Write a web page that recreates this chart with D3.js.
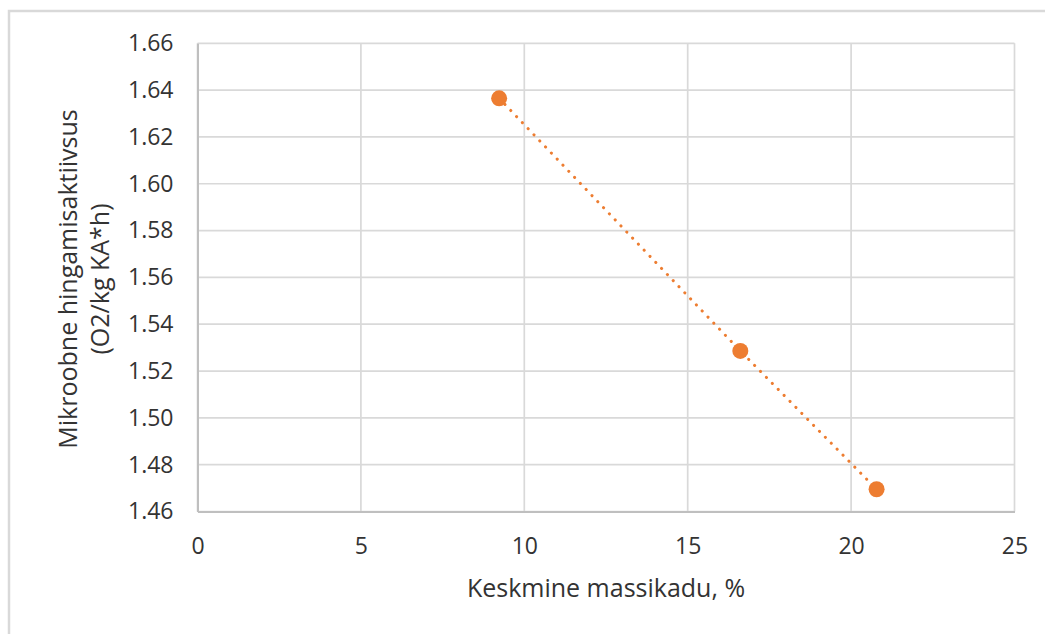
<!DOCTYPE html>
<html>
<head>
<meta charset="utf-8">
<script src="https://cdn.jsdelivr.net/npm/d3@7"></script>
<style>
  html, body { margin: 0; padding: 0; background: #fff; }
  svg { display: block; }
  text { font-family: "Open Sans", "Liberation Sans", sans-serif; fill: #333; }
</style>
</head>
<body>
<svg id="chart" width="1045" height="634"></svg>
<script>
// Average mass loss (%) vs. microbial respiration activity
const massLoss = [9.23, 16.61, 20.78];
const respiration = [1.6365, 1.5286, 1.4695];
const xTicks = [0, 5, 10, 15, 20, 25];
const yTicks = [1.46, 1.48, 1.50, 1.52, 1.54, 1.56, 1.58, 1.60, 1.62, 1.64, 1.66];
const xTitle = "Keskmine massikadu, %";
const yTitleLines = ["Mikroobne hingamisaktiivsus", "(O2/kg KA*h)"];

const svg = d3.select("#chart");
const plot = { left: 197.5, right: 1014.5, top: 43.3, bottom: 511.5 };
const orange = "#ED7D31";

// outer chart frame (extends past the right and bottom edges)
svg.append("rect")
  .attr("x", 9).attr("y", 11)
  .attr("width", 1060).attr("height", 660)
  .attr("fill", "#fff").attr("stroke", "#D9D9D9").attr("stroke-width", 2.5);

const x = d3.scaleLinear().domain([0, 25]).range([plot.left, plot.right]);
const y = d3.scaleLinear().domain([1.46, 1.66]).range([plot.bottom, plot.top]);

// gridlines
const grid = svg.append("g");
grid.selectAll("line.h").data(yTicks).join("line")
  .attr("x1", plot.left).attr("x2", plot.right)
  .attr("y1", d => y(d)).attr("y2", d => y(d))
  .attr("stroke", "#D9D9D9").attr("stroke-width", 1.7);
grid.selectAll("line.v").data(xTicks).join("line")
  .attr("y1", plot.top).attr("y2", plot.bottom)
  .attr("x1", d => x(d)).attr("x2", d => x(d))
  .attr("stroke", "#D9D9D9").attr("stroke-width", 1.7);

// axes
const xAxis = d3.axisBottom(x).tickValues(xTicks).tickSize(0).tickPadding(26).tickFormat(d3.format("d"));
const yAxis = d3.axisLeft(y).tickValues(yTicks).tickSize(0).tickPadding(24).tickFormat(d3.format(".2f"));

const gx = svg.append("g").attr("transform", `translate(0,${plot.bottom})`).call(xAxis);
const gy = svg.append("g").attr("transform", `translate(${plot.left},0)`).call(yAxis);
[gx, gy].forEach(g => {
  g.select(".domain").attr("stroke", "#BFBFBF").attr("stroke-width", 2);
  g.selectAll("text").attr("font-size", 23).attr("fill", "#333")
    .attr("font-family", "'Open Sans', sans-serif");
});

// series line (dotted) and markers
const pts = massLoss.map((v, i) => [v, respiration[i]]);
svg.append("path")
  .datum(pts)
  .attr("d", d3.line().x(d => x(d[0])).y(d => y(d[1])))
  .attr("fill", "none").attr("stroke", orange)
  .attr("stroke-width", 3).attr("stroke-linecap", "round")
  .attr("stroke-dasharray", "0.1 8.3");

svg.selectAll("circle.pt").data(pts).join("circle")
  .attr("cx", d => x(d[0])).attr("cy", d => y(d[1]))
  .attr("r", 8).attr("fill", orange);

// axis titles
svg.append("text")
  .attr("x", 606).attr("y", 597)
  .attr("text-anchor", "middle").attr("font-size", 25)
  .text(xTitle);

const yt = svg.append("text")
  .attr("transform", "translate(0,279) rotate(-90)")
  .attr("text-anchor", "middle").attr("font-size", 25);
yt.selectAll("tspan").data(yTitleLines).join("tspan")
  .attr("x", 0).attr("y", (d, i) => 77 + i * 32)
  .text(d => d);
</script>
</body>
</html>
